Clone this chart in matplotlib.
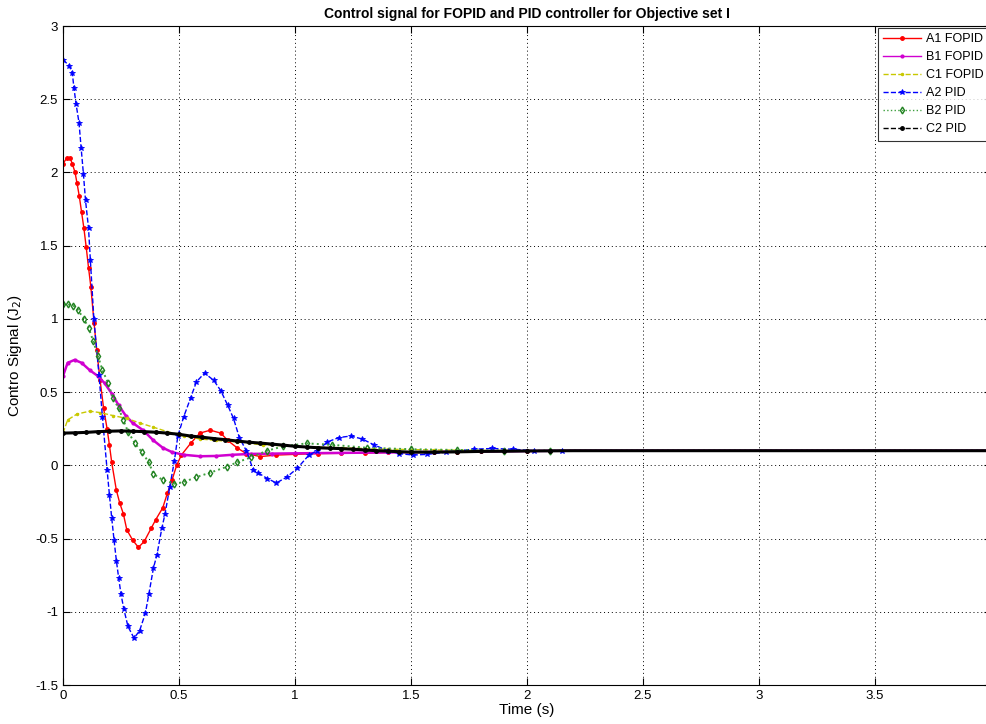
import matplotlib
matplotlib.use("Agg")
import matplotlib.pyplot as plt
from matplotlib.ticker import FormatStrFormatter


# A1 FOPID (red)
t_a1 = [0, 0.017, 0.03, 0.04, 0.052, 0.06, 0.07, 0.08, 0.09, 0.10, 0.11, 0.12, 0.134, 0.145,
        0.16, 0.175, 0.19, 0.20, 0.21, 0.23, 0.245, 0.26, 0.275, 0.30, 0.325, 0.35, 0.38, 0.40,
        0.43, 0.45, 0.47, 0.49, 0.51, 0.55, 0.59, 0.635, 0.68, 0.71, 0.75, 0.79, 0.85, 0.92,
        1.0, 1.1, 1.2, 1.3, 1.4, 1.5, 1.6, 1.7, 1.8, 1.9, 2.0, 2.1]
y_a1 = [2.06, 2.10, 2.10, 2.06, 2.00, 1.93, 1.84, 1.73, 1.62, 1.49, 1.35, 1.22, 0.97, 0.79,
        0.58, 0.39, 0.25, 0.14, 0.02, -0.17, -0.26, -0.33, -0.44, -0.51, -0.56, -0.52, -0.43, -0.37,
        -0.29, -0.19, -0.10, 0.00, 0.07, 0.15, 0.22, 0.24, 0.22, 0.17, 0.12, 0.08, 0.06, 0.07,
        0.075, 0.08, 0.082, 0.085, 0.088, 0.09, 0.092, 0.094, 0.096, 0.097, 0.098, 0.099]

# B1 FOPID (magenta)
t_b1 = [0, 0.02, 0.05, 0.08, 0.115, 0.15, 0.18, 0.21, 0.24, 0.27, 0.30, 0.345, 0.39, 0.43,
        0.47, 0.52, 0.59, 0.66, 0.73, 0.81, 0.9, 1.0, 1.2, 1.4, 1.6, 1.8, 2.0, 2.1]
y_b1 = [0.61, 0.70, 0.72, 0.70, 0.65, 0.61, 0.56, 0.49, 0.41, 0.34, 0.29, 0.24, 0.17, 0.12,
        0.09, 0.072, 0.062, 0.064, 0.072, 0.078, 0.08, 0.082, 0.085, 0.088, 0.092, 0.095, 0.098, 0.099]

# C1 FOPID (yellow)
t_c1 = [0, 0.02, 0.06, 0.115, 0.16, 0.215, 0.275, 0.33, 0.39, 0.45, 0.52, 0.59, 0.66, 0.75,
        0.86, 1.0, 1.2, 1.4, 1.6, 1.8, 2.0, 2.1]
y_c1 = [0.22, 0.31, 0.35, 0.37, 0.36, 0.34, 0.32, 0.29, 0.26, 0.23, 0.20, 0.18, 0.17, 0.16,
        0.14, 0.13, 0.12, 0.11, 0.105, 0.102, 0.10, 0.10]

# A2 PID (blue)
t_a2 = [0, 0.026, 0.04, 0.047, 0.056, 0.069, 0.078, 0.088, 0.097, 0.11,
        0.118, 0.133, 0.155, 0.17, 0.19, 0.20, 0.21, 0.22, 0.23, 0.24,
        0.25, 0.262, 0.28, 0.306, 0.33, 0.355, 0.37, 0.39, 0.405, 0.426,
        0.44, 0.46, 0.48, 0.495, 0.52, 0.55, 0.575, 0.61, 0.65, 0.68,
        0.71, 0.735, 0.76, 0.79, 0.82, 0.84, 0.88, 0.92, 0.965, 1.01,
        1.06, 1.095, 1.14, 1.19, 1.24, 1.29, 1.34, 1.40, 1.45, 1.51,
        1.57, 1.65, 1.77, 1.85, 1.94, 2.03, 2.15]
y_a2 = [2.77, 2.73, 2.68, 2.58, 2.47, 2.34, 2.17, 1.99, 1.81, 1.62,
        1.40, 1.00, 0.62, 0.33, -0.03, -0.20, -0.36, -0.51, -0.65, -0.77,
        -0.88, -0.98, -1.10, -1.18, -1.13, -1.01, -0.88, -0.70, -0.61, -0.43,
        -0.33, -0.15, 0.03, 0.20, 0.33, 0.46, 0.57, 0.63, 0.58, 0.51,
        0.41, 0.32, 0.19, 0.10, -0.03, -0.05, -0.09, -0.12, -0.08, -0.02,
        0.07, 0.10, 0.16, 0.19, 0.20, 0.18, 0.14, 0.10, 0.08, 0.07,
        0.075, 0.09, 0.11, 0.115, 0.11, 0.10, 0.095]

# B2 PID (green)
t_b2 = [0, 0.02, 0.045, 0.065, 0.09, 0.11, 0.13, 0.15, 0.17, 0.195,
        0.215, 0.24, 0.26, 0.28, 0.31, 0.34, 0.37, 0.39, 0.43, 0.48,
        0.52, 0.575, 0.635, 0.705, 0.75, 0.81, 0.88, 0.95, 1.05, 1.16,
        1.31, 1.5, 1.7, 1.9, 2.1]
y_b2 = [1.10, 1.10, 1.09, 1.06, 1.00, 0.94, 0.85, 0.75, 0.65, 0.56,
        0.46, 0.39, 0.31, 0.23, 0.15, 0.09, 0.02, -0.06, -0.10, -0.125,
        -0.115, -0.08, -0.05, -0.01, 0.02, 0.055, 0.10, 0.13, 0.15, 0.14,
        0.12, 0.11, 0.105, 0.10, 0.10]

# C2 PID (black)
t_c2 = [0, 0.05, 0.1, 0.15, 0.2, 0.25, 0.3, 0.35, 0.4, 0.45,
        0.5, 0.55, 0.6, 0.65, 0.7, 0.75, 0.8, 0.85, 0.9, 0.95,
        1.0, 1.05, 1.1, 1.15, 1.2, 1.25, 1.3, 1.35, 1.4, 1.45,
        1.5, 1.6, 1.7, 1.8, 1.9, 2.0, 2.1]
y_c2 = [0.22, 0.222, 0.225, 0.23, 0.233, 0.235, 0.233, 0.23, 0.226, 0.22,
        0.212, 0.20, 0.192, 0.183, 0.175, 0.166, 0.158, 0.152, 0.145, 0.138,
        0.13, 0.125, 0.12, 0.117, 0.114, 0.11, 0.105, 0.10, 0.097, 0.093,
        0.09, 0.09, 0.092, 0.095, 0.096, 0.098, 0.099]

# settled part, shared by all six signals
t_tail = [2.2, 2.3, 2.4, 2.5, 2.6, 2.7, 2.8, 2.9, 3.0, 3.1, 3.2, 3.3, 3.4, 3.5, 3.6, 3.7,
          3.8, 3.9, 3.98]
y_tail = [0.1, 0.1, 0.1, 0.1, 0.1, 0.1, 0.1, 0.1, 0.1, 0.1, 0.1, 0.1, 0.1, 0.1, 0.1, 0.1,
          0.1, 0.1, 0.1]

x_ticks = [0, 0.5, 1, 1.5, 2, 2.5, 3, 3.5]
y_ticks = [-1.5, -1, -0.5, 0, 0.5, 1, 1.5, 2, 2.5, 3]

plt.rcParams["font.family"] = ["Liberation Sans", "DejaVu Sans"]

fig = plt.figure(figsize=(9.87, 7.24), dpi=100)
ax = fig.add_axes([63 / 987, 1 - 685 / 724, 928 / 987, 659 / 724])

series = [
    (t_a1, y_a1, dict(color="red", ls="-", marker=".", ms=5, lw=1.0), "A1 FOPID"),
    (t_b1, y_b1, dict(color="#d000d0", ls="-", marker=".", ms=4, lw=1.8), "B1 FOPID"),
    (t_c1, y_c1, dict(color="#c8c800", ls="--", marker=".", ms=3, lw=1.0), "C1 FOPID"),
    (t_a2, y_a2, dict(color="blue", ls="--", marker="*", ms=4, lw=1.0, mew=0.6), "A2 PID"),
    (t_b2, y_b2, dict(color="#3fa03f", ls=":", marker="d", ms=3.5, lw=1.4, mfc="none", mec="#1f801f"), "B2 PID"),
    (t_c2, y_c2, dict(color="black", ls="-", marker=".", ms=5, lw=2.2), "C2 PID"),
]

for t, y, style, name in series:
    # markers only on the transient part; the settled part reads as a thick band
    ax.plot(list(t) + t_tail, list(y) + y_tail, label=name,
            markevery=slice(0, len(t)), **style)

ax.set_xlim(0, 4)
ax.set_ylim(-1.5, 3)
ax.set_xticks(x_ticks)
ax.set_yticks(y_ticks)
ax.xaxis.set_major_formatter(FormatStrFormatter("%g"))
ax.yaxis.set_major_formatter(FormatStrFormatter("%g"))
ax.tick_params(direction="in", length=5, top=True, right=True, labelsize=9.5, colors="black")
ax.grid(True, color="black", ls=(0, (1, 3)), lw=0.7)

ax.set_title("Control signal for FOPID and PID controller for Objective set I",
             fontsize=10, fontweight="bold", pad=6)
ax.set_xlabel("Time (s)", fontsize=11, labelpad=1)
ax.set_ylabel("Contro Signal (J$_2$)", fontsize=11, labelpad=8)

leg = ax.legend(loc="upper right", fontsize=9, frameon=True, fancybox=False,
                edgecolor="black", borderaxespad=0.15, handlelength=3.0,
                labelspacing=0.48, borderpad=0.45, handletextpad=0.4)
leg.get_frame().set_linewidth(0.8)
# thin legend samples, as in the reference key
for line in leg.get_lines():
    line.set_linewidth(1.0)
leg.get_lines()[5].set_linestyle("--")

fig.savefig("out.png", dpi=100)
